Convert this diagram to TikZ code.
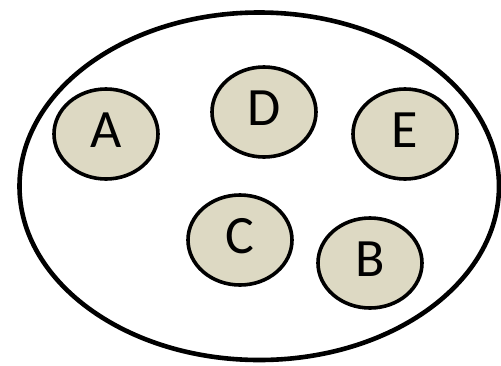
\documentclass[tikz,border=0pt]{standalone}
\usepackage{fontspec}
\setmainfont{Carlito}
\usetikzlibrary{shapes.geometric}
\definecolor{tan}{HTML}{DDD9C3}

\begin{document}
\begin{tikzpicture}[line cap=round,line join=round,x=1pt,y=-1pt,
    elem/.style={ellipse,draw=black,line width=3.6pt,fill=tan,minimum width=104pt,minimum height=90pt,inner sep=0pt,text depth=8pt,font=\fontsize{54}{54}\selectfont}]
                \useasboundingbox (0,0) rectangle (501,365);
                \draw [line width=4.6pt] (259.25,186.25) ellipse (239.75 and 173.75);
                \node[elem] (A) at (106,134) {A};
                \node[elem] (D) at (264,112) {D};
                \node[elem] (E) at (405,134) {E};
                \node[elem] (C) at (240,240) {C};
                \node[elem] (B) at (370,263) {B};
\end{tikzpicture}
\end{document}
